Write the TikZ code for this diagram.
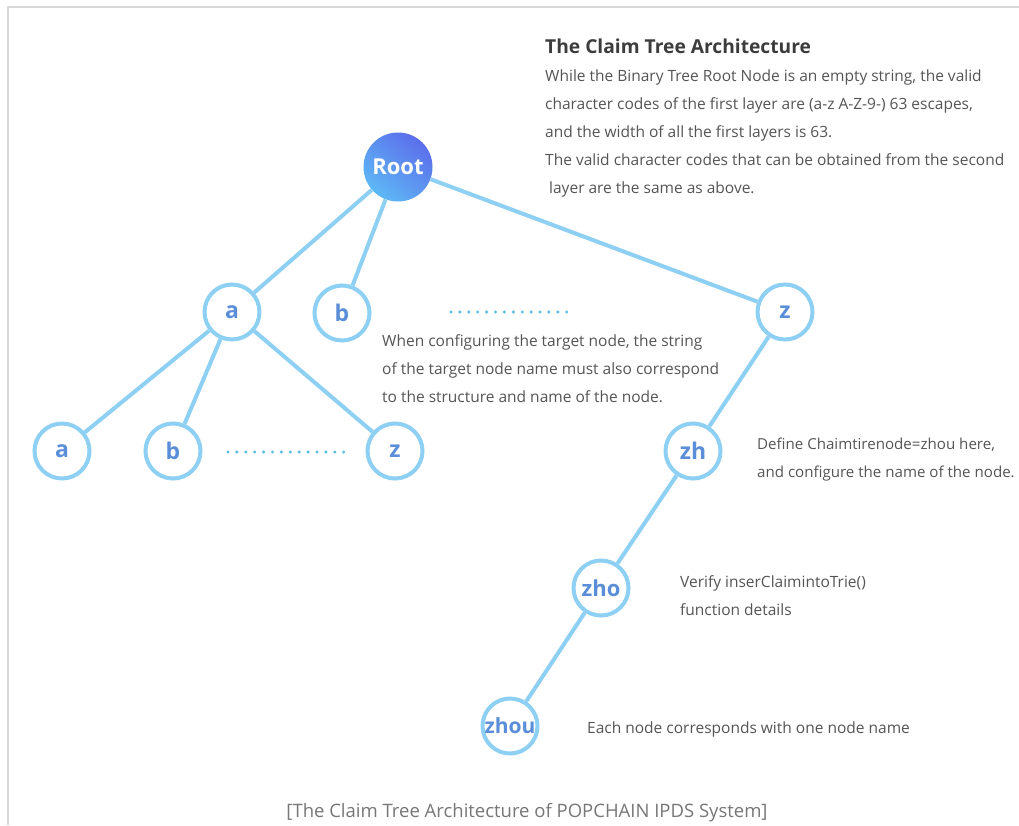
\documentclass[tikz,border=0pt]{standalone}
\usepackage{fontspec}
\setmainfont{Open Sans}
\begin{document}
\begin{tikzpicture}[x=1pt,y=-1pt,
  edge/.style={draw=edgeblue,line width=4pt},
  tnode/.style={circle,draw=edgeblue,line width=4pt,fill=white,minimum size=55pt,inner sep=0pt,text=letterblue,font=\fontsize{23}{23}\selectfont\bfseries},
  body/.style={anchor=base west,inner sep=0pt,text=textgray,font=\fontsize{15.5}{17}\selectfont},
  dotline/.style={draw=dotblue,line width=3.4pt,line cap=round,dash pattern=on 0pt off 8.9pt}
]
\definecolor{edgeblue}{HTML}{8DD0F3}
\definecolor{letterblue}{HTML}{5B8ED8}
\definecolor{textgray}{HTML}{555555}
\definecolor{titlegray}{HTML}{3C3C3C}
\definecolor{dotblue}{HTML}{5CBEE2}
\definecolor{framegray}{HTML}{D8D8D8}
\definecolor{rootlight}{HTML}{5DB8F5}
\definecolor{rootdark}{HTML}{5C6EEB}
\useasboundingbox (0,0) rectangle (1019,825);
\fill[white] (0,0) rectangle (1019,825);
% frame
\coordinate (f1) at (8,825);
\coordinate (f2) at (8,7);
\coordinate (f3) at (1019,7);
\draw[framegray,line width=2pt] (f1) -- (f2) -- (f3);

% nodes
\node[circle,minimum size=69pt,inner sep=0pt,top color=rootdark,bottom color=rootlight,shading angle=-40,text=white,font=\fontsize{22}{22}\selectfont\bfseries] (root) at (398,167) {Root};
\node[tnode] (a) at (232,312) {a};
\node[tnode] (b) at (342,313) {b};
\node[tnode] (z) at (785,312) {z};
\node[tnode] (aa) at (62,451) {a};
\node[tnode] (ab) at (173,451) {b};
\node[tnode] (az) at (395,451) {z};
\node[tnode] (zh) at (693,451) {zh};
\node[tnode,font=\fontsize{22}{22}\selectfont\bfseries] (zho) at (601,588) {zho};
\node[tnode,font=\fontsize{21}{21}\selectfont\bfseries] (zhou) at (510,726) {zhou};

% edges
\draw[edge] (root) -- (a);
\draw[edge] (root) -- (b);
\draw[edge] (root) -- (z);
\draw[edge] (a) -- (aa);
\draw[edge] (a) -- (ab);
\draw[edge] (a) -- (az);
\draw[edge] (z) -- (zh);
\draw[edge] (zh) -- (zho);
\draw[edge] (zho) -- (zhou);

% dotted ellipses
\coordinate (d1s) at (451,312);
\coordinate (d1e) at (567,312);
\draw[dotline] (d1s) -- (d1e);
\coordinate (d2s) at (228,452);
\coordinate (d2e) at (344,452);
\draw[dotline] (d2s) -- (d2e);

% texts
\node[body,text=titlegray,font=\fontsize{19.2}{21}\selectfont\bfseries] (title) at (545,53) {The Claim Tree Architecture};
\node[body] (t1) at (545,81) {While the Binary Tree Root Node is an empty string, the valid};
\node[body] (t2) at (545,109) {character codes of the first layer are (a-z A-Z-9-) 63 escapes,};
\node[body] (t3) at (545,137) {and the width of all the first layers is 63.};
\node[body] (t4) at (545,165) {The valid character codes that can be obtained from the second};
\node[body] (t5) at (549,193) {layer are the same as above.};

\node[body] (c1) at (382,346) {When configuring the target node, the string};
\node[body] (c2) at (382,374) {of the target node name must also correspond};
\node[body] (c3) at (382,402) {to the structure and name of the node.};

\node[body,font=\fontsize{15.1}{17}\selectfont] (e1) at (757,449) {Define Chaimtirenode=zhou here,};
\node[body,font=\fontsize{15.1}{17}\selectfont] (e2) at (757,477) {and configure the name of the node.};

\node[body] (v1) at (680,587) {Verify inserClaimintoTrie()};
\node[body] (v2) at (680,615) {function details};

\node[body] (n1) at (587,733) {Each node corresponds with one node name};

\node[anchor=base,inner sep=0pt,text=textgray!80,font=\fontsize{18.5}{20}\selectfont] (cap) at (527,817) {[The Claim Tree Architecture of POPCHAIN IPDS System]};
\end{tikzpicture}
\end{document}
